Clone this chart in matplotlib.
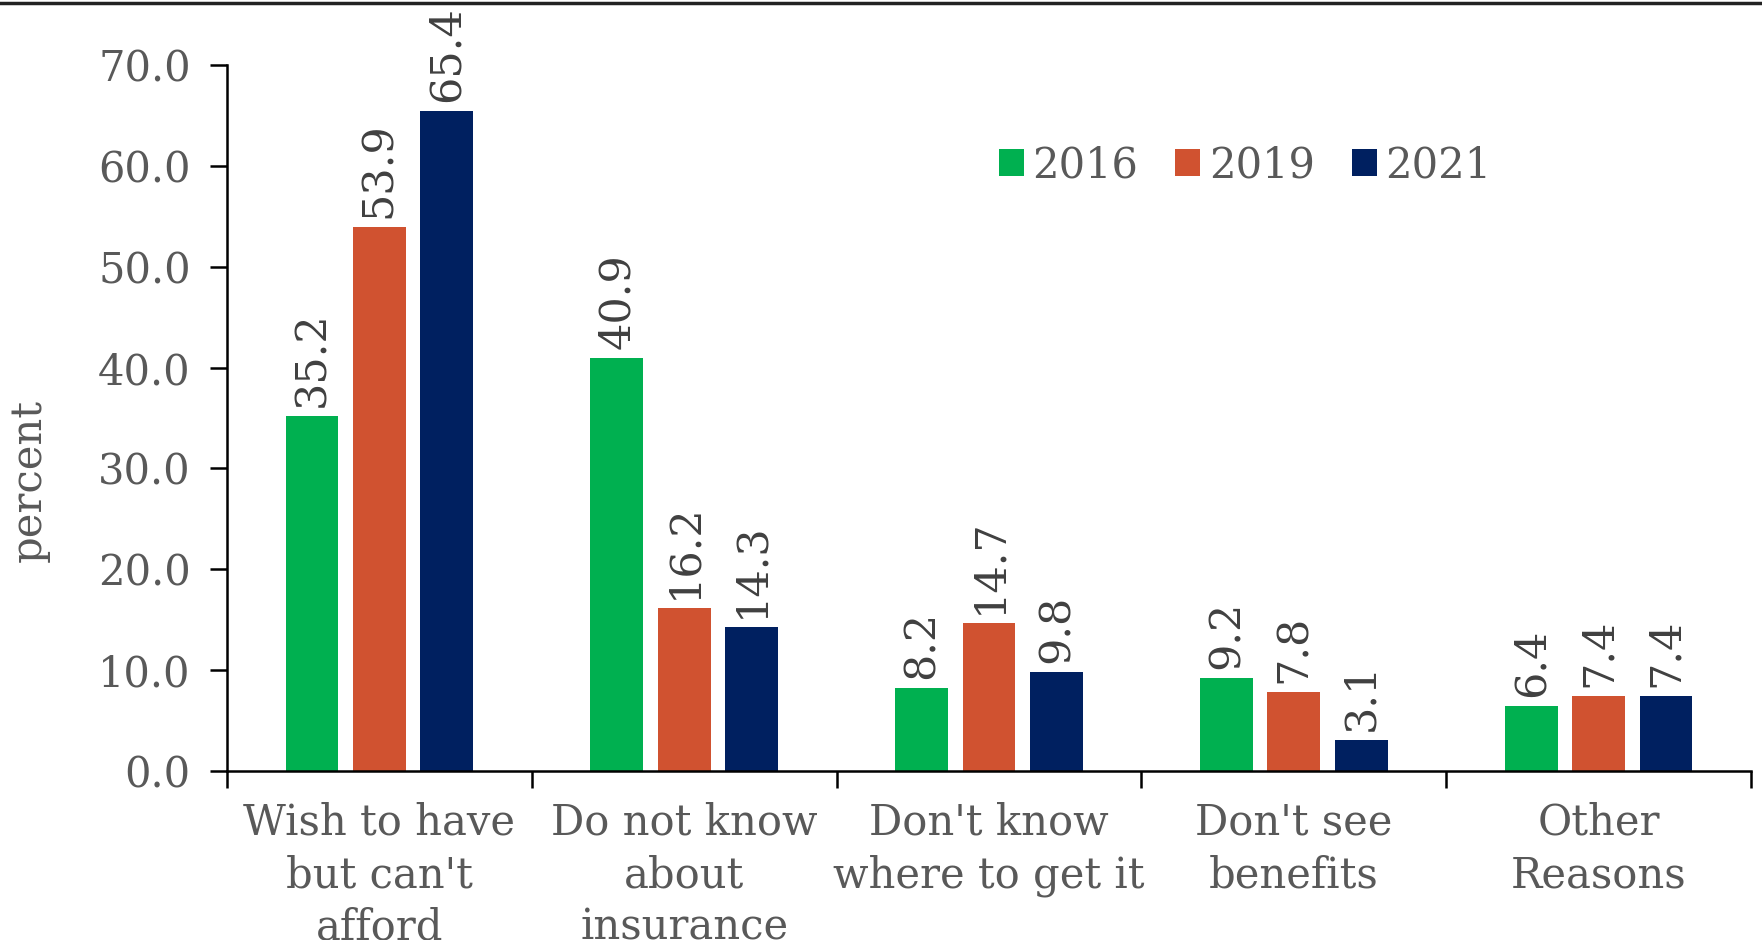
import matplotlib
matplotlib.use("Agg")
import matplotlib.pyplot as plt
import numpy as np

# data
categories = ["Wish to have\nbut can't\nafford", "Do not know\nabout\ninsurance",
              "Don't know\nwhere to get it", "Don't see\nbenefits", "Other\nReasons"]
years = ["2016", "2019", "2021"]
v2016 = [35.2, 40.9, 8.2, 9.2, 6.4]
v2019 = [53.9, 16.2, 14.7, 7.8, 7.4]
v2021 = [65.4, 14.3, 9.8, 3.1, 7.4]
yticks = [0, 10, 20, 30, 40, 50, 60, 70]

colors = ["#00B050", "#D05230", "#002060"]
txt = "#595959"

plt.rcParams["font.family"] = ["DejaVu Serif"]

fig = plt.figure(figsize=(17.62, 9.4), dpi=100)
ax = fig.add_axes([0.1288, 0.1798, 0.8650, 0.7511])

x = np.arange(len(categories))
offs = [-0.221, 0.0, 0.221]
w = 0.173
for vals, off, c, yr in zip([v2016, v2019, v2021], offs, colors, years):
    bars = ax.bar(x + off, vals, width=w, color=c, label=yr)
    for b, v in zip(bars, vals):
        ax.text(b.get_x() + b.get_width() / 2, v + 0.9, f"{v:.1f}", rotation=90,
                ha="center", va="bottom", fontsize=31, color="#404040")

ax.set_xlim(-0.5, len(categories) - 0.5)
ax.set_ylim(0, 70)
ax.set_yticks(yticks)
ax.set_yticklabels([f"{t:.1f}" for t in yticks])
ax.tick_params(axis="y", labelsize=30, labelcolor=txt, length=12, width=1.8, pad=14)

ax.set_xticks(x)
ax.set_xticklabels(categories, linespacing=1.32)
ax.tick_params(axis="x", which="major", length=0, labelsize=30, labelcolor=txt, pad=22)
ax.set_xticks(np.arange(-0.5, len(categories)), minor=True)
ax.tick_params(axis="x", which="minor", length=12, width=1.8)

for s in ["top", "right"]:
    ax.spines[s].set_visible(False)
ax.spines["left"].set_linewidth(1.8)
ax.spines["bottom"].set_linewidth(1.8)

ax.set_ylabel("percent", fontsize=30, color=txt)
ax.yaxis.set_label_coords(-0.116, 0.412)

ax.legend(loc="center", bbox_to_anchor=(0.668, 0.858), ncol=3, frameon=False,
          fontsize=30, labelcolor=txt, handlelength=0.6, handleheight=0.6,
          handletextpad=0.2, columnspacing=0.9)

# thin rule across the very top
fig.add_artist(plt.Line2D([0, 1], [0.997, 0.997], color="#222222", lw=2.5,
                          transform=fig.transFigure))

fig.savefig("out.png", dpi=100)
